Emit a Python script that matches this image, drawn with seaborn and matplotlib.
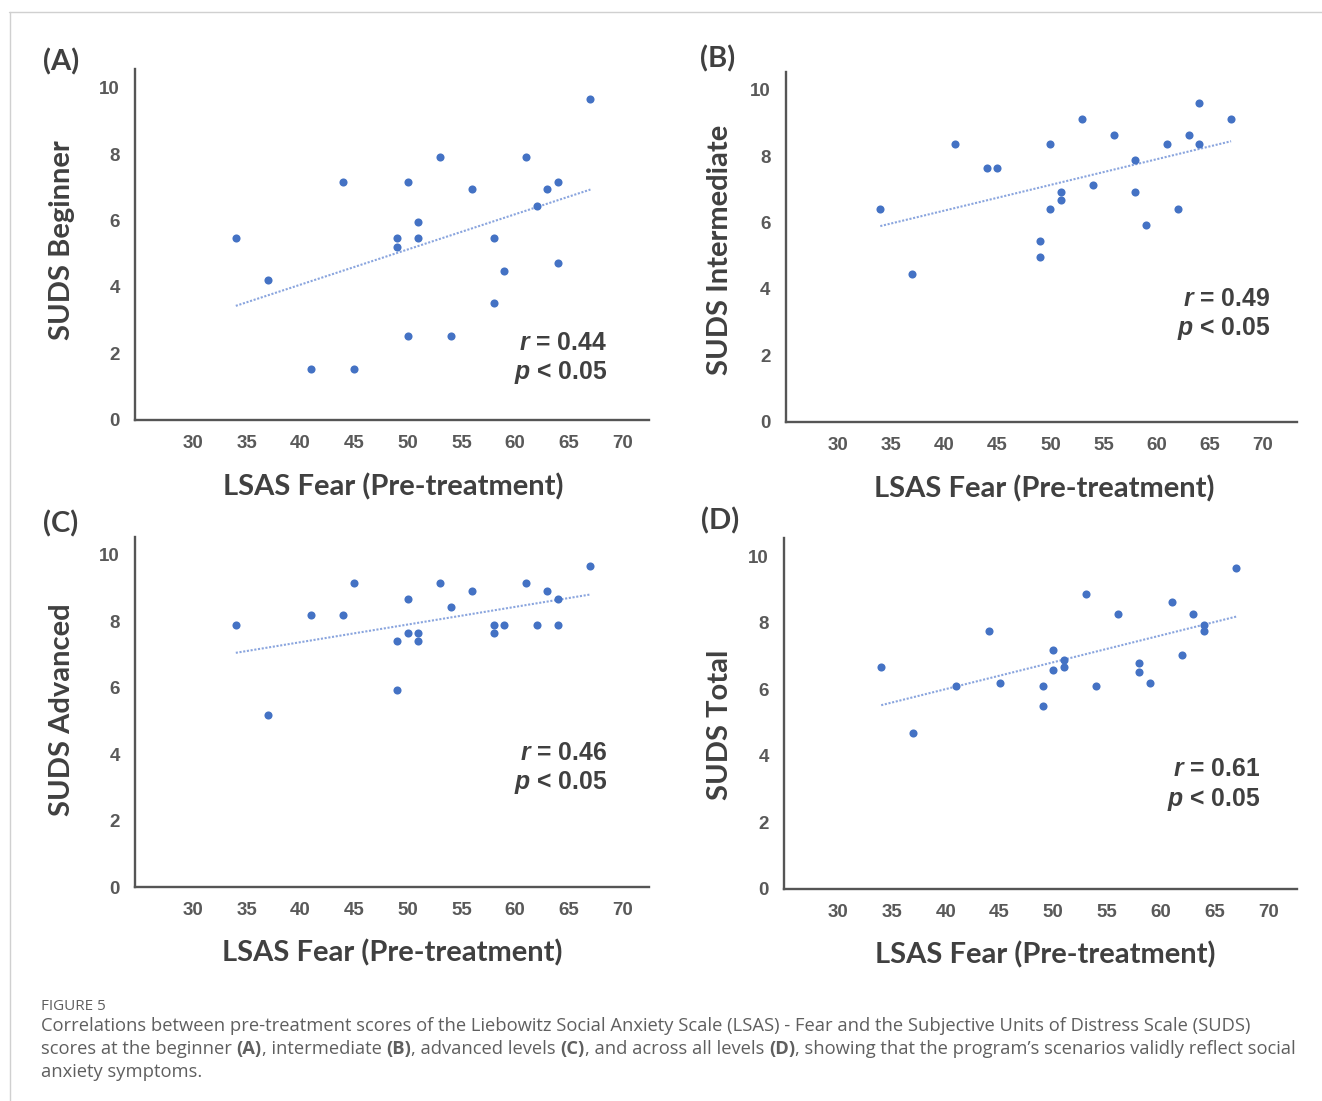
import matplotlib
matplotlib.use("Agg")
import matplotlib.pyplot as plt
import seaborn as sns
from matplotlib.lines import Line2D

# --- data ---
# LSAS Fear (pre-treatment), same participants in every panel
lsas_fear = [34, 37, 41, 44, 45, 49, 49, 50, 50, 51, 51, 53,
             54, 56, 58, 58, 59, 61, 62, 63, 64, 64, 67]

suds_beginner = [5.47, 4.22, 1.54, 7.17, 1.54, 5.47, 5.21, 7.17, 2.52, 5.95, 5.47, 7.92,
                 2.52, 6.94, 5.47, 3.51, 4.49, 7.92, 6.44, 6.94, 7.17, 4.73, 9.65]
suds_intermediate = [6.42, 4.46, 8.37, 7.64, 7.64, 5.45, 4.95, 8.37, 6.42, 6.93, 6.68, 9.11,
                     7.14, 8.65, 7.89, 6.92, 5.92, 8.37, 6.42, 8.65, 9.61, 8.37, 9.11]
suds_advanced = [7.90, 5.17, 8.18, 8.18, 9.17, 7.42, 5.94, 8.67, 7.66, 7.66, 7.42, 9.17,
                 8.42, 8.91, 7.90, 7.66, 7.90, 9.17, 7.90, 8.91, 8.67, 7.90, 9.66]
suds_total = [6.68, 4.68, 6.11, 7.77, 6.19, 6.11, 5.50, 7.19, 6.59, 6.87, 6.67, 8.86,
              6.11, 8.28, 6.78, 6.52, 6.19, 8.63, 7.02, 8.28, 7.95, 7.76, 9.64]

panel_letters = ["(A)", "(B)", "(C)", "(D)"]
y_titles = ["SUDS Beginner", "SUDS Intermediate", "SUDS Advanced", "SUDS Total"]
r_values = ["0.44", "0.49", "0.46", "0.61"]
x_title = "LSAS Fear (Pre-treatment)"
x_ticks = [30, 35, 40, 45, 50, 55, 60, 65, 70]
y_ticks = [0, 2, 4, 6, 8, 10]

# --- layout (pixels of a 1322x1101 canvas) ---
W, H = 1322, 1101
DOT = "#4472C4"
TREND = "#8AA5DE"
TICK = "#595959"
DARK = "#404040"

layout = [
    dict(l=135, r=649, b=419.8, xlim=(24.62, 72.45), yl=(-0.142, 0.514), xl=(0.502, -0.192),
         txt=(0.918, 0.219, 0.134), letter=(61, 62)),
    dict(l=785.7, r=1297, b=421.8, xlim=(25.1, 73.2), yl=(-0.129, 0.49), xl=(0.505, -0.192),
         txt=(0.948, 0.351, 0.265), letter=(718, 59)),
    dict(l=135, r=649, b=887, xlim=(24.62, 72.45), yl=(-0.142, 0.506), xl=(0.501, -0.189),
         txt=(0.918, 0.383, 0.297), letter=(61, 524)),
    dict(l=784.4, r=1297, b=888.5, xlim=(25.0, 72.66), yl=(-0.126, 0.467), xl=(0.508, -0.19),
         txt=(0.928, 0.341, 0.255), letter=(720, 521)),
]
AX_H = 350.3
YMAX = 10.55

sns.set_style("white")
plt.rcParams["font.family"] = ["Liberation Sans", "DejaVu Sans"]
plt.rcParams["mathtext.fontset"] = "custom"
plt.rcParams["mathtext.it"] = "Liberation Sans:italic:bold"
plt.rcParams["mathtext.rm"] = "Liberation Sans:bold"

fig = plt.figure(figsize=(W / 100, H / 100), dpi=100)

series = [suds_beginner, suds_intermediate, suds_advanced, suds_total]
for suds, ytitle, r_val, letter, lay in zip(series, y_titles, r_values, panel_letters, layout):
    rect = [lay["l"] / W, 1 - lay["b"] / H, (lay["r"] - lay["l"]) / W, AX_H / H]
    ax = fig.add_axes(rect)
    sns.regplot(x=lsas_fear, y=suds, ax=ax, ci=None, truncate=True, color=DOT,
                scatter_kws=dict(s=34, alpha=1, linewidths=0, zorder=3),
                line_kws=dict(color=TREND, lw=1.5, ls=(0, (1, 0.8)), zorder=2))
    ax.set_xlim(*lay["xlim"])
    ax.set_ylim(0, YMAX)
    ax.set_xticks(x_ticks)
    ax.set_yticks(y_ticks)
    ax.tick_params(length=0, pad=11, labelsize=13.5, labelcolor=TICK)
    for lab in ax.get_xticklabels() + ax.get_yticklabels():
        lab.set_fontweight("bold")
    for side in ["top", "right"]:
        ax.spines[side].set_visible(False)
    for side in ["left", "bottom"]:
        ax.spines[side].set_color("#555555")
        ax.spines[side].set_linewidth(1.7)

    ax.set_ylabel(ytitle, fontfamily=["Lato", "DejaVu Sans"], fontweight="bold",
                  fontsize=21, color=DARK)
    ax.yaxis.label.set_verticalalignment("center")
    ax.yaxis.set_label_coords(*lay["yl"])
    ax.set_xlabel(x_title, fontfamily=["Lato", "DejaVu Sans"], fontweight="bold",
                  fontsize=21, color=DARK)
    ax.xaxis.label.set_verticalalignment("center")
    ax.xaxis.set_label_coords(*lay["xl"])

    tx, ty_r, ty_p = lay["txt"]
    ax.text(tx, ty_r, r"$r$ = " + r_val, transform=ax.transAxes, ha="right", va="center",
            fontsize=17.8, fontweight="bold", color=DARK)
    ax.text(tx, ty_p, r"$p$ < 0.05", transform=ax.transAxes, ha="right", va="center",
            fontsize=17.8, fontweight="bold", color=DARK)

    fig.text(lay["letter"][0] / W, 1 - lay["letter"][1] / H, letter,
             fontfamily=["Lato", "DejaVu Sans"], fontweight="bold", fontsize=21,
             color=DARK, ha="center", va="center")

# thin page frame
fig.add_artist(Line2D([9 / W, 1], [1 - 12 / H, 1 - 12 / H], color="#d0d0d0", lw=1))
fig.add_artist(Line2D([9.5 / W, 9.5 / W], [0, 1 - 12 / H], color="#d0d0d0", lw=1))

# caption
cap = fig.add_axes([0, 0, 1, 1])
cap.axis("off")
cap.set_xlim(0, W)
cap.set_ylim(H, 0)
CAP_FONT = ["Open Sans", "DejaVu Sans"]
CAP_COLOR = "#5f5f5f"
cap.text(41, 1010, "FIGURE 5", fontfamily=CAP_FONT, fontsize=11, color=CAP_COLOR,
         va="baseline", ha="left")

caption_lines = [
    [("Correlations between pre-treatment scores of the Liebowitz Social Anxiety Scale (LSAS) - "
      "Fear and the Subjective Units of Distress Scale (SUDS)", "normal")],
    [("scores at the beginner ", "normal"), ("(A)", "bold"), (", intermediate ", "normal"),
     ("(B)", "bold"), (", advanced levels ", "normal"), ("(C)", "bold"),
     (", and across all levels ", "normal"), ("(D)", "bold"),
     (", showing that the program\u2019s scenarios validly reflect social", "normal")],
    [("anxiety symptoms.", "normal")],
]
baselines = [1031, 1054, 1077]
for parts, base in zip(caption_lines, baselines):
    seg, weight = parts[0]
    t = cap.text(41, base, seg, fontfamily=CAP_FONT, fontsize=13.2, fontweight=weight,
                 color=CAP_COLOR, va="baseline", ha="left")
    for seg, weight in parts[1:]:
        t = cap.annotate(seg, xy=(1, 0), xycoords=t, va="bottom", ha="left",
                         fontfamily=CAP_FONT, fontsize=13.2, fontweight=weight,
                         color=CAP_COLOR)

fig.savefig("out.png", dpi=100, facecolor="white")
